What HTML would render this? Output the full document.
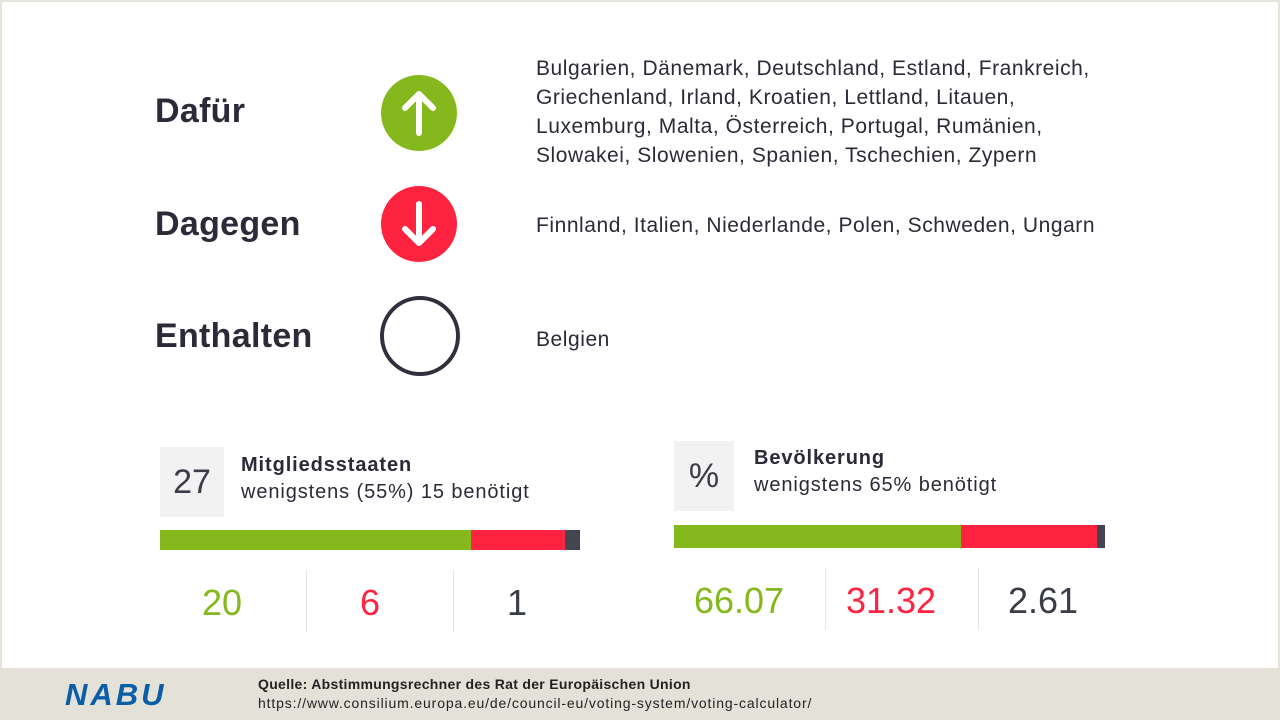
<!DOCTYPE html>
<html><head><meta charset="utf-8"><style>
*{margin:0;padding:0;box-sizing:border-box}
body{width:1280px;height:720px;overflow:hidden;background:#fff;font-family:"Liberation Sans",sans-serif;color:#2b2a38;position:relative}
.a{position:absolute;white-space:nowrap}
.lbl{font-weight:bold;font-size:34px;left:155px;letter-spacing:0.3px}
.circ{position:absolute;width:76px;height:76px;border-radius:50%;left:381px}
.c{font-size:21px;left:536px;line-height:29px;letter-spacing:0.55px}
.box{position:absolute;background:#f2f2f2;font-size:34px;color:#3a3d48;text-align:center}
.n{font-size:36px;text-align:center;width:140px}
.dv{position:absolute;width:1px;background:#e6e6e6}
</style></head><body>
<div style="position:absolute;inset:0;border:2px solid #e6e4da;border-bottom:none"></div>
<div class="a lbl" style="top:92px">Dafür</div>
<div class="a lbl" style="top:205px">Dagegen</div>
<div class="a lbl" style="top:317px">Enthalten</div>
<div class="circ" style="top:75px;background:#84b81c"><svg width="76" height="76"><path d="M38 58V20M24 33L38 19L52 33" stroke="#fff" stroke-width="6" fill="none" stroke-linecap="round" stroke-linejoin="round"/></svg></div>
<div class="circ" style="top:186px;background:#fe2340"><svg width="76" height="76"><path d="M38 18V56M24 43L38 57L52 43" stroke="#fff" stroke-width="6" fill="none" stroke-linecap="round" stroke-linejoin="round"/></svg></div>
<div class="circ" style="top:296px;left:380px;width:80px;height:80px;border:4px solid #32303f"></div>
<div class="a c" style="top:54px">Bulgarien, Dänemark, Deutschland, Estland, Frankreich,<br>Griechenland, Irland, Kroatien, Lettland, Litauen,<br>Luxemburg, Malta, Österreich, Portugal, Rumänien,<br>Slowakei, Slowenien, Spanien, Tschechien, Zypern</div>
<div class="a c" style="top:211px">Finnland, Italien, Niederlande, Polen, Schweden, Ungarn</div>
<div class="a c" style="top:325px">Belgien</div>

<div class="box" style="left:160px;top:447px;width:64px;height:70px;line-height:70px">27</div>
<div class="a" style="left:241px;top:454px;font-weight:bold;font-size:20px;letter-spacing:0.9px">Mitgliedsstaaten</div>
<div class="a" style="left:241px;top:481px;font-size:20px;letter-spacing:0.9px">wenigstens (55%) 15 benötigt</div>
<div class="a" style="left:160px;top:530px;width:311px;height:20px;background:#84b81c"></div>
<div class="a" style="left:471px;top:530px;width:94px;height:20px;background:#fe2340"></div>
<div class="a" style="left:565px;top:530px;width:15px;height:20px;background:#434650"></div>
<div class="a n" style="left:152px;top:582px;color:#84b81c">20</div>
<div class="a n" style="left:300px;top:582px;color:#fe2340">6</div>
<div class="a n" style="left:447px;top:582px;color:#3a3d48">1</div>
<div class="dv" style="left:306px;top:570px;height:63px"></div>
<div class="dv" style="left:453px;top:570px;height:63px"></div>

<div class="box" style="left:674px;top:441px;width:60px;height:70px;line-height:70px">%</div>
<div class="a" style="left:754px;top:447px;font-weight:bold;font-size:20px;letter-spacing:0.9px">Bevölkerung</div>
<div class="a" style="left:754px;top:474px;font-size:20px;letter-spacing:0.9px">wenigstens 65% benötigt</div>
<div class="a" style="left:674px;top:525px;width:287px;height:23px;background:#84b81c"></div>
<div class="a" style="left:961px;top:525px;width:136px;height:23px;background:#fe2340"></div>
<div class="a" style="left:1097px;top:525px;width:8px;height:23px;background:#434650"></div>
<div class="a n" style="left:669px;top:580px;color:#84b81c">66.07</div>
<div class="a n" style="left:821px;top:580px;color:#fe2340">31.32</div>
<div class="a n" style="left:973px;top:580px;color:#3a3d48">2.61</div>
<div class="dv" style="left:825px;top:568px;height:62px"></div>
<div class="dv" style="left:978px;top:568px;height:62px"></div>

<div class="a" style="left:0;top:668px;width:1280px;height:52px;background:#e4e2d8"></div>
<div class="a" style="left:65px;top:677px;font-size:31px;font-weight:bold;font-style:italic;color:#0a5ea8;letter-spacing:3px">NABU</div>
<div class="a" style="left:258px;top:676px;font-size:14px;font-weight:bold;color:#222;letter-spacing:0.3px">Quelle: Abstimmungsrechner  des Rat der Europäischen Union</div>
<div class="a" style="left:258px;top:695px;font-size:14px;color:#222;letter-spacing:0.85px">https://www.consilium.europa.eu/de/council-eu/voting-system/voting-calculator/</div>
</body></html>
